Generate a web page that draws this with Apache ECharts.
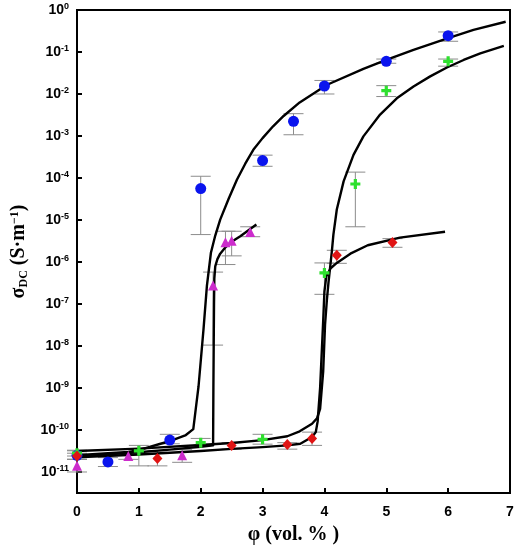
<!DOCTYPE html>
<html>
<head>
<meta charset="utf-8">
<script src="https://cdn.jsdelivr.net/npm/echarts@6/dist/echarts.min.js"></script>
<style>
html,body{margin:0;padding:0;background:#fff;}
#c{width:517px;height:550px;}
</style>
</head>
<body>
<div id="c"></div>
<script>
// ---- data (phi in vol.%, sigma in S/m) ----
var yTickValues = [1e-11,1e-10,1e-9,1e-8,1e-7,1e-6,1e-5,1e-4,1e-3,1e-2,1e-1,1];
var xTickLabels = ['0','1','2','3','4','5','6','7'];

var blueX  = [0, 0.5, 1.5, 2.0, 3.0, 3.5, 4.0, 5.0, 6.0];
var blueY  = [2.5e-11, 1.74e-11, 5.75e-11, 5.6e-5, 2.6e-4, 2.24e-3, 1.55e-2, 6.0e-2, 0.245];
var blueLo = [2.0e-11, 1.35e-11, 4.7e-11, 4.5e-6, 1.9e-4, 1.07e-3, 1.0e-2, 5.4e-2, 0.18];
var blueHi = [3.2e-11, 2.2e-11, 7.9e-11, 1.1e-4, 3.5e-4, 3.4e-3, 2.1e-2, 6.8e-2, 0.30];

var greenX  = [0, 1.0, 2.0, 3.0, 4.0, 4.5, 5.0, 6.0];
var greenY  = [2.8e-11, 3.2e-11, 5.0e-11, 6.0e-11, 5.5e-7, 7.2e-5, 1.2e-2, 6.0e-2];
var greenLo = [2.4e-11, 1.4e-11, 4.2e-11, 4.6e-11, 1.7e-7, 6.9e-6, 8.7e-3, 4.6e-2];
var greenHi = [3.3e-11, 4.3e-11, 6.3e-11, 7.9e-11, 9.5e-7, 1.38e-4, 1.58e-2, 6.8e-2];

var magX  = [0, 0.83, 1.7, 2.2, 2.4, 2.5, 2.8];
var magY  = [1.4e-11, 2.4e-11, 2.5e-11, 2.75e-7, 2.95e-6, 3.2e-6, 5.2e-6];
var magLo = [1.0e-11, 2.0e-11, 1.7e-11, 1.05e-8, 8.7e-7, 1.4e-6, 4.0e-6];
var magHi = [2.0e-11, 2.8e-11, 3.4e-11, 5.75e-7, 5.4e-6, 5.4e-6, 6.9e-6];

var redX  = [0, 1.3, 2.5, 3.4, 3.8, 4.2, 5.1];
var redY  = [2.4e-11, 2.1e-11, 4.3e-11, 4.5e-11, 6.3e-11, 1.44e-6, 2.9e-6];
var redLo = [2.0e-11, 1.4e-11, 3.5e-11, 3.5e-11, 4.3e-11, 9.3e-7, 2.24e-6];
var redHi = [2.8e-11, 3.2e-11, 5.0e-11, 5.0e-11, 8.9e-11, 1.9e-6, 3.6e-6];

// fitted curves
var fitAX = [0, 0.5, 0.83, 1.0, 1.35, 1.5, 1.75, 1.88, 1.92, 1.965, 2.045, 2.10, 2.165, 2.23, 2.315, 2.45, 2.585, 2.72, 2.85, 3.0, 3.17, 3.34, 3.6, 3.98, 4.09, 4.63, 5.0, 5.44, 6.0, 6.41, 6.93];
var fitAY = [2.5e-11, 2.8e-11, 3.0e-11, 3.3e-11, 4.7e-11, 5.4e-11, 7.4e-11, 1.05e-10, 3.2e-10, 1.1e-9, 2.5e-8, 2.7e-7, 1.66e-6, 4.0e-6, 1.02e-5, 3.16e-5, 9.1e-5, 2.19e-4, 4.68e-4, 8.9e-4, 1.7e-3, 3.0e-3, 6.3e-3, 1.45e-2, 1.78e-2, 3.98e-2, 6.46e-2, 0.112, 0.214, 0.335, 0.525];

var fitBX = [0, 1, 1.5, 2.0, 2.2, 2.205, 2.215, 2.22, 2.235, 2.27, 2.315, 2.4, 2.48, 2.64, 2.9];
var fitBY = [2.35e-11, 2.95e-11, 3.4e-11, 4.0e-11, 4.3e-11, 1e-9, 1e-7, 4e-7, 7.9e-7, 1.17e-6, 1.58e-6, 2.24e-6, 2.9e-6, 4.1e-6, 7.8e-6];

var fitCX = [0, 1, 2, 2.5, 3, 3.4, 3.6, 3.8, 3.88, 3.93, 3.98, 4.01, 4.04, 4.065, 4.12, 4.145, 4.2, 4.31, 4.47, 4.63, 4.9, 5.17, 5.44, 5.71, 5.98, 6.25, 6.52, 6.9];
var fitCY = [3.16e-11, 3.6e-11, 4.4e-11, 4.9e-11, 5.75e-11, 7.1e-11, 9.3e-11, 1.41e-10, 1.9e-10, 3.2e-10, 2.5e-9, 3.2e-8, 1.26e-7, 3.2e-7, 1.78e-6, 4.47e-6, 1.78e-5, 8.3e-5, 3.55e-4, 9.8e-4, 3.24e-3, 7.9e-3, 1.51e-2, 2.63e-2, 4.27e-2, 6.46e-2, 9.3e-2, 0.14];

var fitDX = [0, 1, 2, 2.5, 3, 3.4, 3.61, 3.8, 3.86, 3.89, 3.93, 3.98, 4.0, 4.03, 4.1, 4.2, 4.42, 4.7, 5.22, 5.95];
var fitDY = [2.24e-11, 2.6e-11, 3.16e-11, 3.55e-11, 3.9e-11, 4.3e-11, 4.7e-11, 6.8e-11, 8.9e-11, 1.58e-10, 1e-9, 4e-8, 2e-7, 4.5e-7, 7.1e-7, 9.5e-7, 1.58e-6, 2.5e-6, 3.8e-6, 5.25e-6];

// ---- helpers ----
function zip2(a, b) { return a.map(function (v, i) { return [v, b[i]]; }); }
function zip3(a, b, c) { return a.map(function (v, i) { return [v, b[i], c[i]]; }); }

var colors = { blue: '#0a14ee', green: '#2ee02e', mag: '#cc2ccc', red: '#e01414' };
var crossPath = 'path://M3.4,0H6.6V3.4H10V6.6H6.6V10H3.4V6.6H0V3.4H3.4Z';

function errSeries(data) {
  return {
    type: 'custom',
    data: data,
    encode: { x: 0, y: [1, 2] },
    z: 1,
    silent: true,
    renderItem: function (params, api) {
      var x = api.value(0);
      var top = api.coord([x, api.value(2)]);
      var bot = api.coord([x, api.value(1)]);
      var hw = 10;
      var st = { stroke: '#8c8c8c', lineWidth: 1 };
      return {
        type: 'group',
        children: [
          { type: 'line', shape: { x1: top[0], y1: top[1], x2: bot[0], y2: bot[1] }, style: st },
          { type: 'line', shape: { x1: top[0] - hw, y1: top[1], x2: top[0] + hw, y2: top[1] }, style: st },
          { type: 'line', shape: { x1: bot[0] - hw, y1: bot[1], x2: bot[0] + hw, y2: bot[1] }, style: st }
        ]
      };
    }
  };
}
function fitSeries(xs, ys) {
  return {
    type: 'line', data: zip2(xs, ys), showSymbol: false, symbol: 'none', smooth: false,
    lineStyle: { color: '#000', width: 2.4, join: 'round' }, z: 3, silent: true
  };
}
function ptSeries(xs, ys, symbol, size, color) {
  return {
    type: 'scatter', data: zip2(xs, ys), symbol: symbol, symbolSize: size,
    itemStyle: { color: color, opacity: 1 }, z: 4, silent: true
  };
}

var chart = echarts.init(document.getElementById('c'), null, { renderer: 'canvas' });
chart.setOption({
  animation: false,
  backgroundColor: '#fff',
  grid: { left: 77, right: 7, top: 10, bottom: 57, containLabel: false, outerBoundsMode: 'none', show: true, borderColor: '#000', borderWidth: 2, backgroundColor: 'transparent' },
  xAxis: {
    type: 'value', min: 0, max: 7, interval: 1,
    name: 'φ (vol. % )', nameLocation: 'middle', nameGap: 32,
    nameTextStyle: { fontFamily: 'Liberation Serif', fontWeight: 'bold', fontSize: 20, color: '#000' },
    axisLine: { show: true, onZero: false, lineStyle: { color: '#000', width: 2 } },
    axisTick: { show: true, inside: true, length: 5, lineStyle: { color: '#000', width: 2 } },
    axisLabel: {
      margin: 12, color: '#000', fontFamily: 'Liberation Sans', fontWeight: 'bold', fontSize: 14,
      formatter: function (v) { return xTickLabels[Math.round(v)]; }
    },
    splitLine: { show: false }
  },
  yAxis: {
    type: 'log', logBase: 10, min: 3.162e-12, max: 1,
    name: '{g|σ}{sub|DC}{g| (S·m}{sup|−1}{g|)}', nameLocation: 'middle', nameGap: 47, nameRotate: 90,
    nameTextStyle: {
      color: '#000',
      rich: {
        g: { fontFamily: 'Liberation Serif', fontWeight: 'bold', fontSize: 20, color: '#000' },
        sub: { fontFamily: 'Liberation Serif', fontWeight: 'bold', fontSize: 12, color: '#000', verticalAlign: 'top', padding: [9, 0, 0, 0] },
        sup: { fontFamily: 'Liberation Serif', fontWeight: 'bold', fontSize: 12, color: '#000', verticalAlign: 'bottom', padding: [0, 0, 9, 0] }
      }
    },
    axisLine: { show: true, lineStyle: { color: '#000', width: 2 } },
    axisTick: { show: true, inside: true, length: 5, lineStyle: { color: '#000', width: 2 }, customValues: yTickValues },
    axisLabel: {
      margin: 8, color: '#000', customValues: yTickValues,
      formatter: function (v) {
        var e = Math.round(Math.log(v) / Math.LN10);
        return '{b|10}{s|' + e + '}';
      },
      rich: {
        b: { fontFamily: 'Liberation Sans', fontWeight: 'bold', fontSize: 14, color: '#000' },
        s: { fontFamily: 'Liberation Sans', fontWeight: 'bold', fontSize: 9, color: '#000', verticalAlign: 'bottom', padding: [0, 0, 7, 0] }
      }
    },
    splitLine: { show: false },
    minorTick: { show: false }
  },
  series: [
    errSeries(zip3(blueX, blueLo, blueHi)),
    errSeries(zip3(greenX, greenLo, greenHi)),
    errSeries(zip3(magX, magLo, magHi)),
    errSeries(zip3(redX, redLo, redHi)),
    fitSeries(fitAX, fitAY),
    fitSeries(fitBX, fitBY),
    fitSeries(fitCX, fitCY),
    fitSeries(fitDX, fitDY),
    ptSeries(blueX, blueY, 'circle', 11, colors.blue),
    ptSeries(greenX, greenY, crossPath, 10, colors.green),
    ptSeries(magX, magY, 'triangle', 10, colors.mag),
    ptSeries(redX, redY, 'diamond', [10, 11], colors.red)
  ]
});
</script>
</body>
</html>
